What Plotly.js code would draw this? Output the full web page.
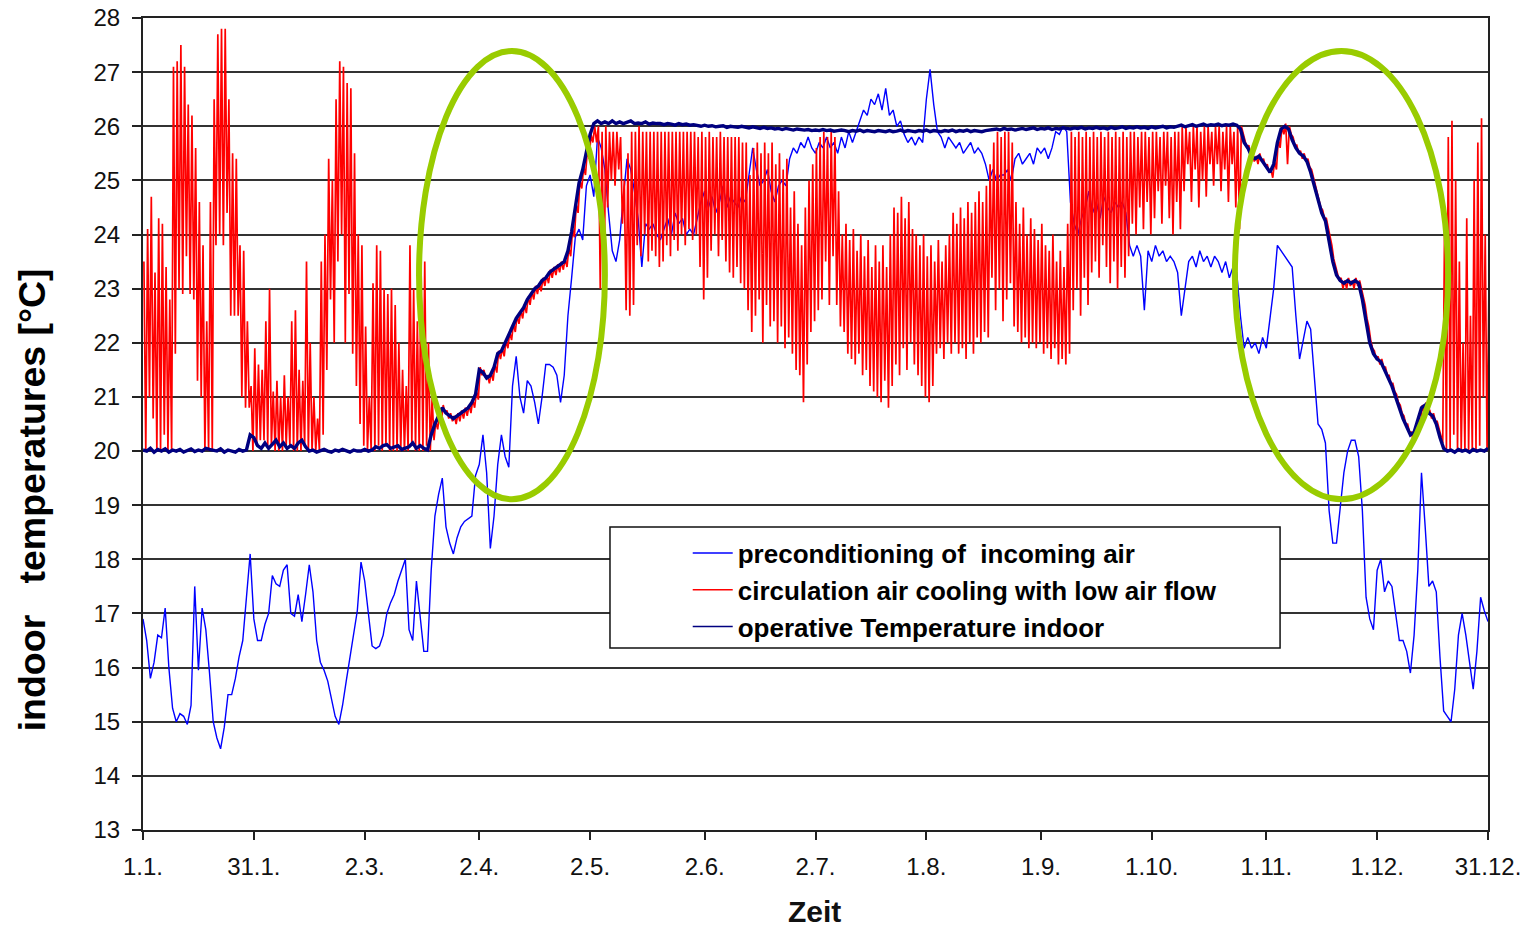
<!DOCTYPE html>
<html>
<head>
<meta charset="utf-8">
<script src="https://cdn.plot.ly/plotly-3.0.1.min.js"></script>
<style>html,body{margin:0;padding:0;background:#fff;}#chart{width:1536px;height:930px;}</style>
</head>
<body>
<div id="chart"></div>
<script>
// Day of year (0 = 1 Jan ... 364 = 31 Dec)
const tickDays   = [0, 30, 60, 91, 121, 152, 182, 212, 243, 273, 304, 334, 364];
const tickLabels = ['1.1.', '31.1.', '2.3.', '2.4.', '2.5.', '2.6.', '2.7.', '1.8.', '1.9.', '1.10.', '1.11.', '1.12.', '31.12.'];

const seriesNames = ['preconditioning of\u00a0 incoming air', 'circulation air cooling with low air flow', 'operative Temperature indoor'];

// circulation air cooling: daily maximum / minimum (°C)
const redHi = [
23.5,24.1,24.7,23.3,24.3,24.2,23.4,22.8,27.1,27.2,
27.5,27.1,26.4,26.2,25.6,24.6,23.8,22.4,24.6,26.5,
27.7,27.8,27.8,26.5,25.5,25.4,23.8,23.7,22.4,21.2,
21.9,21.6,21.5,22.4,23.0,21.1,21.3,21.0,21.4,21.0,
22.4,22.6,21.5,21.3,23.5,22.0,21.0,20.6,23.5,24.0,
25.4,25.0,26.5,27.2,27.1,26.8,26.7,25.5,24.0,23.8,
22.3,21.0,23.1,23.8,23.7,23.0,22.9,23.0,22.7,22.0,
21.5,21.2,23.8,23.0,22.4,23.5,23.5,22.0,21.0,20.55,
20.7,20.85,20.75,20.7,20.65,20.7,20.75,20.8,20.85,20.95,
21.1,21.55,21.5,21.4,21.45,21.6,21.85,21.9,22.05,22.2,
22.35,22.5,22.6,22.7,22.85,22.95,23.05,23.1,23.2,23.25,
23.35,23.4,23.45,23.5,23.55,23.75,24.1,24.55,25.0,25.25,
25.55,25.85,26.0,26.0,25.9,26.0,25.9,25.9,25.9,25.8,
25.0,25.5,25.9,25.9,26.0,25.9,25.9,25.9,25.9,25.9,
25.9,25.9,25.9,25.9,25.9,25.9,25.9,25.9,25.9,25.9,
25.8,25.9,25.8,25.9,25.8,25.8,25.9,25.8,25.8,25.8,
25.8,25.8,25.7,25.7,25.1,25.6,25.7,25.5,25.7,25.5,
25.7,25.3,25.5,25.2,25.4,24.5,24.8,24.2,23.8,24.5,
25.0,25.3,25.6,25.8,25.9,25.8,25.9,25.8,24.8,24.0,
24.2,23.9,24.1,23.7,24.0,23.6,23.9,23.4,23.8,23.5,
23.8,23.4,24.0,24.5,24.4,24.7,24.3,24.6,24.1,24.0,
23.8,24.0,23.6,23.8,23.5,23.9,23.5,23.8,24.0,24.4,
24.2,24.5,24.3,24.6,24.4,24.6,24.8,24.6,24.9,25.3,
25.7,25.9,25.8,25.9,25.9,25.7,24.6,24.2,24.5,24.0,
24.3,24.1,23.9,24.2,23.8,23.7,24.0,23.5,23.7,23.4,
24.2,25.9,25.8,25.9,25.8,25.9,25.8,25.9,25.8,25.9,
25.8,25.9,25.8,25.9,25.8,25.9,25.8,25.9,25.9,25.8,
25.9,25.9,25.8,25.9,25.9,25.8,25.9,25.9,25.8,25.9,
25.9,26.0,26.0,25.9,26.0,26.0,25.9,26.0,26.0,25.9,
26.0,26.0,25.9,26.0,26.0,25.9,26.0,26.0,25.75,25.65,
25.5,25.45,25.5,25.4,25.3,25.2,25.35,25.75,26.0,26.05,
26.0,25.8,25.65,25.55,25.5,25.4,25.2,24.95,24.65,24.45,
24.3,23.95,23.55,23.3,23.2,23.15,23.2,23.15,23.2,23.15,
22.85,22.45,22.05,21.85,21.75,21.7,21.55,21.4,21.25,21.05,
20.85,20.65,20.5,20.35,20.4,20.65,20.85,20.9,20.75,20.7,
20.55,20.3,24.2,25.8,26.1,25.0,23.5,22.0,24.3,22.5,
25.0,25.7,26.15,24.0,23.0
];
const redLo = [
20.0,21.0,20.6,20.0,20.0,20.3,20.0,20.0,21.8,23.0,
22.9,23.6,22.9,22.8,21.3,21.0,20.0,20.0,20.0,23.8,
24.0,23.8,24.4,22.5,22.5,22.5,21.0,20.8,20.8,20.0,
20.1,20.2,20.2,20.1,20.1,20.0,20.0,20.0,20.1,20.1,
20.0,20.0,20.0,20.1,20.0,20.0,20.0,20.0,20.3,21.5,
22.8,22.0,23.5,24.0,22.0,22.9,21.8,21.2,20.5,20.1,
20.0,20.0,20.0,20.1,20.0,20.1,20.0,20.0,20.0,20.0,
20.0,20.0,20.1,20.0,20.0,20.0,20.1,20.0,20.2,20.4,
20.55,20.7,20.6,20.55,20.5,20.55,20.6,20.65,20.7,20.8,
20.95,21.4,21.35,21.25,21.3,21.45,21.7,21.75,21.9,22.05,
22.2,22.35,22.45,22.55,22.7,22.8,22.9,22.95,23.05,23.1,
23.2,23.25,23.3,23.35,23.4,23.6,23.95,24.4,24.85,25.1,
25.4,25.7,25.7,23.0,22.8,24.5,25.0,24.9,25.2,24.2,
22.6,22.5,22.7,23.8,23.6,24.0,23.5,23.7,23.6,23.4,
23.5,23.8,23.6,23.9,23.7,24.0,23.8,24.1,23.9,24.0,
23.4,22.8,23.2,23.7,24.0,23.6,23.9,23.5,23.3,23.2,
23.4,23.1,23.0,22.6,22.2,22.5,22.8,22.0,22.7,22.3,
22.4,22.0,22.3,21.9,22.1,21.8,21.5,21.4,20.9,21.6,
22.2,22.4,22.6,22.8,23.5,22.7,23.6,22.7,22.3,22.2,
21.8,21.7,21.6,21.8,21.4,21.5,21.2,21.1,21.0,20.9,
21.3,20.8,21.2,21.6,21.4,21.9,21.5,22.0,21.6,21.4,
21.2,21.0,20.9,21.2,21.8,21.9,21.7,22.0,21.8,22.0,
21.8,21.9,21.7,22.0,21.8,22.1,22.0,22.2,22.1,23.2,
22.6,23.0,22.4,22.8,23.1,22.3,22.2,22.0,22.1,21.9,
22.0,21.9,22.0,21.8,21.9,21.7,21.9,21.6,21.7,21.6,
21.8,22.6,23.0,22.5,23.2,22.7,23.3,23.5,23.2,23.8,
23.4,23.1,23.5,23.0,23.4,23.2,23.6,24.2,24.0,24.5,
24.1,24.6,24.0,24.3,24.8,24.2,24.9,24.3,24.0,24.6,
24.1,24.8,25.3,24.6,25.2,24.5,25.0,24.7,25.3,24.9,
25.3,24.8,25.2,24.6,25.3,24.5,24.1,25.85,25.6,25.5,
25.35,25.3,25.35,25.25,25.15,25.05,25.2,25.6,25.85,25.3,
25.85,25.65,25.5,25.4,25.35,25.25,25.05,24.8,24.5,24.3,
24.15,23.8,23.4,23.15,23.0,23.0,23.05,23.0,23.05,23.0,
22.7,22.3,21.9,21.7,21.6,21.55,21.4,21.25,21.1,20.9,
20.7,20.5,20.35,20.2,20.25,20.5,20.7,20.75,20.6,20.55,
20.4,20.15,20.0,20.0,20.3,20.0,20.0,20.0,20.0,20.0,
20.0,20.1,21.0,20.0,20.0
];

// preconditioning of incoming air: daily value (°C)
const blueT = [
16.9,16.5,15.8,16.1,16.6,16.55,17.1,16.0,15.25,15.0,
15.15,15.1,14.95,15.3,17.5,15.95,17.1,16.7,15.9,15.0,
14.7,14.5,14.9,15.5,15.5,15.8,16.2,16.5,17.3,18.1,
16.9,16.5,16.5,16.8,17.0,17.7,17.55,17.5,17.8,17.9,
17.0,16.95,17.35,16.85,17.35,17.9,17.4,16.5,16.1,15.95,
15.75,15.4,15.1,14.95,15.3,15.75,16.2,16.6,17.05,17.95,
17.6,17.0,16.4,16.35,16.4,16.6,17.0,17.2,17.35,17.6,
17.8,18.0,16.7,16.5,17.6,17.0,16.3,16.3,17.8,18.8,
19.2,19.5,18.6,18.3,18.1,18.4,18.6,18.7,18.75,18.8,
19.55,19.75,20.3,19.6,18.2,18.8,19.75,20.3,19.9,19.7,
21.2,21.75,21.0,20.7,21.3,21.2,20.9,20.5,21.0,21.6,
21.6,21.55,21.4,20.9,21.4,22.5,23.2,23.95,24.1,23.9,
24.9,25.1,24.7,25.8,25.6,25.2,24.4,23.7,23.5,23.9,
24.7,25.4,25.2,24.8,24.3,23.4,24.2,24.1,24.2,24.0,
23.9,24.1,24.3,24.0,24.4,24.2,24.3,24.0,24.1,24.0,
24.3,24.6,24.8,24.5,24.7,24.4,24.6,24.9,24.5,24.7,
24.6,24.5,24.7,24.6,25.1,25.6,25.2,24.9,25.0,25.2,
24.8,24.6,24.9,25.0,24.9,25.4,25.6,25.5,25.7,25.6,
25.8,25.6,25.5,25.7,25.6,25.8,25.6,25.7,25.5,25.8,
25.6,25.9,25.7,25.9,26.1,26.3,26.2,26.5,26.4,26.6,
26.3,26.7,26.2,26.3,26.0,26.1,25.85,25.7,25.8,25.65,
25.8,25.7,26.5,27.05,26.4,25.9,25.8,25.6,25.8,25.7,
25.6,25.7,25.5,25.6,25.7,25.5,25.6,25.5,25.3,25.0,
25.2,25.0,25.1,25.1,25.2,25.0,25.4,25.5,25.3,25.4,
25.5,25.3,25.6,25.5,25.6,25.4,25.6,25.9,25.85,26.0,
25.9,24.6,24.2,24.0,24.3,24.5,24.8,24.4,24.6,24.3,
24.7,24.5,24.4,24.6,24.5,24.6,24.4,23.8,23.6,23.8,
23.6,22.6,23.7,23.5,23.8,23.6,23.7,23.5,23.6,23.5,
23.3,22.5,23.0,23.5,23.6,23.4,23.7,23.5,23.6,23.4,
23.6,23.5,23.3,23.5,23.2,23.4,23.3,22.5,21.9,22.1,
21.9,22.0,21.8,22.1,21.9,22.45,23.0,23.8,23.7,23.6,
23.5,23.4,22.5,21.7,22.05,22.4,22.25,21.3,20.5,20.4,
20.15,18.9,18.3,18.3,18.9,19.6,20.0,20.2,20.2,19.9,
18.9,17.3,16.9,16.7,17.8,18.0,17.4,17.6,17.5,17.0,
16.5,16.5,16.3,15.9,16.6,17.8,19.6,18.6,17.5,17.6,
17.4,16.2,15.2,15.1,15.0,15.6,16.6,17.0,16.6,16.1,
15.6,16.3,17.3,17.05,16.85
];

// operative temperature indoor: daily value (°C)
const navyT = [
20.02,20.0,20.05,19.98,20.03,20.0,20.04,19.98,20.02,20.0,
20.03,19.98,20.01,20.04,19.99,20.02,20.0,20.05,20.03,20.02,
20.0,20.04,19.98,20.02,20.0,19.98,20.03,20.0,20.02,20.3,
20.25,20.1,20.05,20.15,20.05,20.12,20.2,20.08,20.15,20.05,
20.1,20.05,20.15,20.2,20.08,20.0,20.02,19.98,20.0,20.03,
20.0,19.98,20.02,20.0,20.03,20.0,19.98,20.02,20.0,20.0,
20.03,20.0,20.02,20.08,20.05,20.1,20.12,20.05,20.08,20.1,
20.03,20.05,20.08,20.15,20.05,20.1,20.05,20.02,20.3,20.5,
20.65,20.8,20.7,20.65,20.6,20.65,20.7,20.75,20.8,20.9,
21.05,21.5,21.45,21.35,21.4,21.55,21.8,21.85,22.0,22.15,
22.3,22.45,22.55,22.65,22.8,22.9,23.0,23.05,23.15,23.2,
23.3,23.35,23.4,23.45,23.5,23.7,24.05,24.5,24.95,25.2,
25.5,25.85,26.05,26.1,26.05,26.08,26.05,26.1,26.05,26.08,
26.05,26.08,26.1,26.05,26.06,26.05,26.08,26.04,26.06,26.05,
26.05,26.03,26.05,26.04,26.02,26.05,26.03,26.04,26.02,26.03,
26.02,26.0,26.02,26.0,26.01,25.99,26.0,26.01,25.98,26.0,
25.99,25.98,26.0,25.98,25.97,25.99,25.97,25.96,25.98,25.96,
25.97,25.95,25.96,25.94,25.96,25.95,25.93,25.95,25.94,25.93,
25.94,25.92,25.93,25.92,25.94,25.92,25.93,25.91,25.92,25.93,
25.92,25.9,25.92,25.91,25.93,25.9,25.92,25.91,25.9,25.92,
25.91,25.9,25.92,25.9,25.91,25.93,25.9,25.92,25.91,25.9,
25.92,25.91,25.93,25.9,25.92,25.91,25.9,25.92,25.91,25.93,
25.9,25.92,25.91,25.93,25.9,25.92,25.91,25.9,25.92,25.93,
25.94,25.95,25.93,25.96,25.94,25.95,25.93,25.95,25.96,25.94,
25.95,25.97,25.94,25.96,25.95,25.97,25.94,25.96,25.95,25.97,
25.96,25.95,25.97,25.96,25.98,25.95,25.97,25.96,25.98,25.96,
25.97,25.95,25.98,25.96,25.97,25.99,25.96,25.98,25.97,25.99,
25.97,25.98,25.96,25.99,25.97,25.98,26.0,25.97,25.99,25.98,
26.0,26.02,25.99,26.01,26.03,26.0,26.02,26.04,26.01,26.03,
26.02,26.04,26.01,26.03,26.02,26.04,26.02,25.95,25.7,25.6,
25.45,25.4,25.45,25.35,25.25,25.15,25.3,25.7,25.95,26.0,
25.95,25.75,25.6,25.5,25.45,25.35,25.15,24.9,24.6,24.4,
24.25,23.9,23.5,23.25,23.15,23.1,23.15,23.1,23.15,23.1,
22.8,22.4,22.0,21.8,21.7,21.65,21.5,21.35,21.2,21.0,
20.8,20.6,20.45,20.3,20.35,20.6,20.8,20.85,20.7,20.65,
20.5,20.25,20.05,20.0,20.02,19.98,20.03,20.0,20.02,19.98,
20.03,20.0,20.02,20.0,20.05
];

// highlighted periods (transition seasons), in day-of-year / °C
const markSpring = {d0: 74.7, d1: 125.0, t0: 19.11, t1: 27.39};
const markAutumn = {d0: 295.5, d1: 353.2, t0: 19.11, t1: 27.39};

// ---------- build traces ----------
const days = blueT.map((_, i) => i);
const redX = [], redY = [];
redHi.forEach((v, i) => { redX.push(i + 0.25); redY.push(v); redX.push(i + 0.75); redY.push(redLo[i]); });

const FONT = 'Liberation Sans, Arial, sans-serif';
const BLUE = '#0000ff', RED = '#ff0000', NAVY = '#000080';

const traces = [
  {x: days, y: blueT, type: 'scatter', mode: 'lines', name: seriesNames[0], legendgroup: 'a',
   line: {color: BLUE, width: 1.4}},
  {x: redX, y: redY, type: 'scatter', mode: 'lines', name: seriesNames[1], legendgroup: 'b',
   line: {color: RED, width: 1.7}},
  {x: days, y: navyT, type: 'scatter', mode: 'lines', name: seriesNames[2], legendgroup: 'c',
   showlegend: false, line: {color: NAVY, width: 3.4}},
  // legend entry for the operative temperature (thin sample line as in the original legend)
  {x: [null], y: [null], type: 'scatter', mode: 'lines', name: seriesNames[2], legendgroup: 'c',
   line: {color: NAVY, width: 1.4}}
];

const greenLine = {color: '#99cc00', width: 6};

const layout = {
  width: 1536, height: 930,
  margin: {l: 143, r: 48, t: 18, b: 100},
  paper_bgcolor: '#ffffff', plot_bgcolor: '#ffffff',
  font: {family: FONT, color: '#111'},
  showlegend: true,
  legend: {
    x: 0.405, xanchor: 'left', y: 0.37, yanchor: 'top',
    bgcolor: 'rgba(0,0,0,0)', borderwidth: 0,
    font: {family: FONT, size: 26, color: '#000', weight: 'bold'},
    tracegroupgap: 0, itemwidth: 40
  },
  xaxis: {
    range: [0, 364], tickmode: 'array', tickvals: tickDays, ticktext: tickLabels,
    showgrid: false, zeroline: false,
    showline: true, linecolor: '#222', linewidth: 2, mirror: true,
    ticks: 'outside', ticklen: 8, tickwidth: 2, tickcolor: '#222',
    ticklabelstandoff: 6,
    tickfont: {family: FONT, size: 24, color: '#111'}
  },
  yaxis: {
    range: [13, 28], dtick: 1, tick0: 13,
    showgrid: true, gridcolor: '#333', gridwidth: 2, zeroline: false,
    showline: true, linecolor: '#222', linewidth: 2, mirror: true,
    ticks: 'outside', ticklen: 9, tickwidth: 2, tickcolor: '#222',
    ticklabelstandoff: 7,
    tickfont: {family: FONT, size: 24, color: '#111'}
  },
  shapes: [
    {type: 'circle', xref: 'x', yref: 'y', x0: markSpring.d0, x1: markSpring.d1, y0: markSpring.t0, y1: markSpring.t1, line: greenLine},
    {type: 'circle', xref: 'x', yref: 'y', x0: markAutumn.d0, x1: markAutumn.d1, y0: markAutumn.t0, y1: markAutumn.t1, line: greenLine},
    {type: 'rect', xref: 'paper', yref: 'paper', x0: 0.3472, x1: 0.8454, y0: 0.2241, y1: 0.3732,
     fillcolor: '#ffffff', line: {color: '#111', width: 1.5}, layer: 'above'}
  ],
  annotations: [
    {text: 'indoor\u00a0\u00a0\u00a0temperatures [°C]', xref: 'paper', yref: 'paper', x: -0.0825, y: 0.406,
     xanchor: 'center', yanchor: 'middle', textangle: -90, showarrow: false,
     font: {family: FONT, size: 37.5, color: '#000', weight: 'bold'}},
    {text: 'Zeit', xref: 'paper', yref: 'paper', x: 0.499, y: -0.1,
     xanchor: 'center', yanchor: 'middle', showarrow: false,
     font: {family: FONT, size: 30, color: '#111', weight: 'bold'}}
  ]
};

Plotly.newPlot('chart', traces, layout, {displayModeBar: false, staticPlot: true});
</script>
</body>
</html>
